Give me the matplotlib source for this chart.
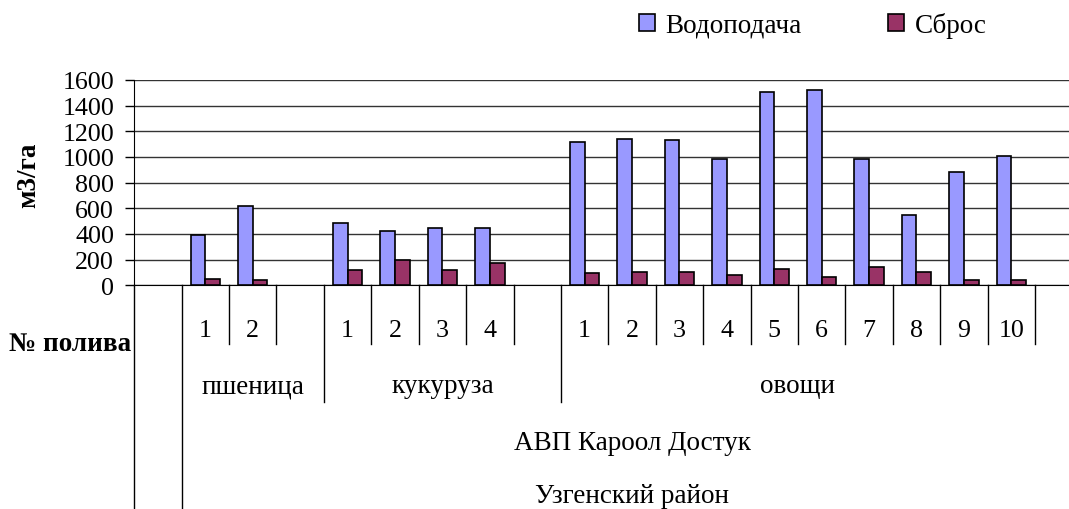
import numpy as np
import matplotlib
matplotlib.use('Agg')
import matplotlib.pyplot as plt
import matplotlib.transforms as mtransforms
from matplotlib.patches import Patch

plt.rcParams['font.family'] = ['Liberation Serif', 'DejaVu Serif']

# data: irrigation numbers per crop, m3/ha
crops = ['пшеница', 'кукуруза', 'овощи']
crop_sizes = [2, 4, 10]
irrigations = ['1', '2', '1', '2', '3', '4', '1', '2', '3', '4', '5', '6', '7', '8', '9', '10']
supply = [395, 615, 485, 420, 445, 445, 1120, 1140, 1130, 985, 1510, 1520, 985, 550, 880, 1010]
discharge = [50, 40, 120, 200, 120, 170, 95, 105, 105, 80, 130, 65, 145, 105, 40, 40]
level3 = 'АВП Кароол Достук'
level4 = 'Узгенский район'
series_names = ['Водоподача', 'Сброс']
colors = ['#9999FF', '#993366']

num_fs = 18.75
txt_fs = 19.5

# category positions: one empty slot first, one empty slot after each crop but the last
pos = []
spans = []
start = 1
for i, n in enumerate(crop_sizes):
    pos += list(range(start, start + n))
    end = start + n - 0.5 + (1 if i < len(crop_sizes) - 1 else 0)
    spans.append((start - 0.5, end))
    start += n + 1
n_cat = start - 1  # 19
pos = np.array(pos)

fig = plt.figure(figsize=(10.69, 5.10), dpi=100)
ax = fig.add_axes([0.1256, 0.4386, 0.8744, 0.4026])

w = 0.31
ax.bar(pos - w / 2, supply, width=w, color=colors[0], edgecolor='black', linewidth=1.2, zorder=3)
ax.bar(pos + w / 2, discharge, width=w, color=colors[1], edgecolor='black', linewidth=1.2, zorder=3)

cat_px = (1035 - 134.3) / n_cat
ax.set_xlim(-0.5, -0.5 + (1069 - 134.3) / cat_px)
ax.set_ylim(0, 1600)
ax.set_yticks(np.arange(0, 1601, 200))
ax.yaxis.grid(True, color='#333333', linewidth=1)
ax.set_axisbelow(True)
ax.set_xticks([])
ax.tick_params(axis='y', direction='out', length=6.5, width=1, labelsize=num_fs, pad=8)
for s in ['top', 'right']:
    ax.spines[s].set_visible(False)
ax.spines['bottom'].set_color('black')
ax.spines['left'].set_color('black')

# multi-level category axis
tr = mtransforms.blended_transform_factory(ax.transData, ax.transAxes)
lvl1, lvl2, bottom = -0.286, -0.568, -1.09
group_edges = [s[0] for s in spans[1:]]
for b in np.arange(-0.5, n_cat, 1.0):
    if b in (-0.5, 0.5):
        y0 = bottom
    elif b in group_edges:
        y0 = lvl2
    else:
        y0 = lvl1
    ax.plot([b, b], [0, y0], transform=tr, color='black', lw=1, clip_on=False)

for p, lab in zip(pos, irrigations):
    ax.text(p, -0.245, lab, transform=tr, ha='center', va='baseline', fontsize=num_fs)
for (a, b), name in zip(spans, crops):
    ax.text((a + b) / 2, -0.521, name, transform=tr, ha='center', va='baseline', fontsize=txt_fs)

fig.text(632 / 1069, 1 - 450 / 510, level3, ha='center', va='baseline', fontsize=txt_fs)
fig.text(632 / 1069, 1 - 503 / 510, level4, ha='center', va='baseline', fontsize=txt_fs)
fig.text(131 / 1069, 1 - 351 / 510, '№ полива', ha='right', va='baseline', fontsize=txt_fs, fontweight='bold')
fig.text(29 / 1069, 1 - 175 / 510, 'м3/га', ha='center', va='center', rotation=90, fontsize=txt_fs, fontweight='bold')

handles = [Patch(facecolor=c, edgecolor='black', linewidth=1.2) for c in colors]
fig.legend(handles, series_names, loc='center left', bbox_to_anchor=(639 / 1069, 1 - 26 / 510),
           ncol=2, frameon=False, fontsize=txt_fs, handlelength=0.58, handleheight=0.58,
           handletextpad=0.4, columnspacing=3.2, borderpad=0, borderaxespad=0)

fig.savefig('out.png', dpi=100)
